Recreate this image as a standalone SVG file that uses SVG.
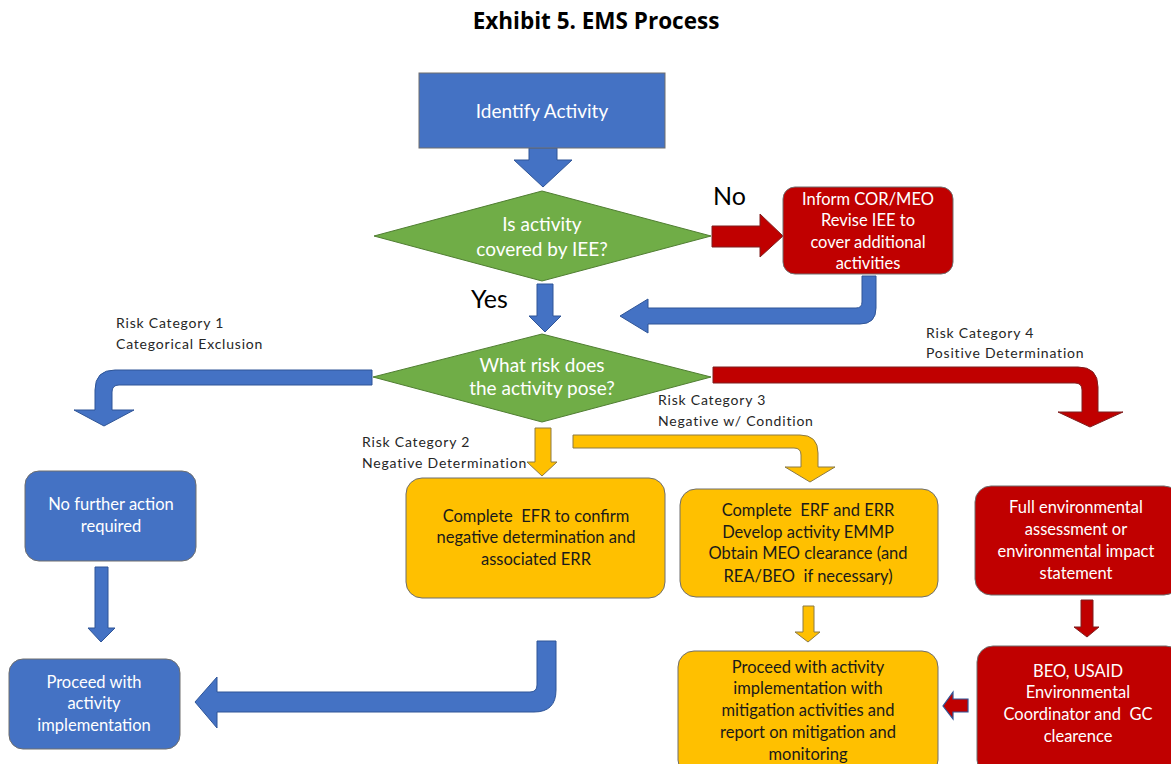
<svg xmlns="http://www.w3.org/2000/svg" width="1171" height="764" viewBox="0 0 1171 764">
<style>
.title{font-family:"Open Sans","Liberation Sans",sans-serif;font-weight:bold;font-size:22.5px;fill:#000;text-anchor:middle}
.big{font-family:Lato,"Liberation Sans",sans-serif;font-size:19px;fill:#fff;text-anchor:middle}
.bt{font-family:Lato,"Liberation Sans",sans-serif;font-size:16.5px;fill:#fff;text-anchor:middle}
.yt{font-family:Lato,"Liberation Sans",sans-serif;font-size:16.5px;fill:#1a1a1a;text-anchor:middle}
.lbl{font-family:Lato,"Liberation Sans",sans-serif;font-size:14px;fill:#262626;letter-spacing:0.8px}
.yn{font-family:Lato,"Liberation Sans",sans-serif;font-size:25px;fill:#000}
.blue{fill:#4472C4;stroke:#2F5597;stroke-width:1}
.green{fill:#70AD47;stroke:#507E32;stroke-width:1}
.red{fill:#C00000;stroke:#7F1F1F;stroke-width:1}
.yel{fill:#FFC000;stroke:#8C7A45;stroke-width:1}
.box{stroke:#6E6E6E;stroke-width:1}
</style>
<rect width="1171" height="764" fill="#fff"/>
<text class="title" x="596" y="29">Exhibit 5. EMS Process</text>

<g id="connectors">
  <polygon class="blue" points="529,148 557,148 557,160 572,160 543,187 514,160 529,160"/>
  <polygon class="red" points="712,226 760,226 760,214 783,236 760,257 760,247 712,247"/>
  <path class="blue" d="M862,276 L876,276 L876,308 Q876,324 860,324 L648,324 L648,333 L620,316 L648,299 L648,308 L856,308 Q862,308 862,302 Z"/>
  <polygon class="blue" points="537,284 553,284 553,316 561,316 545,332 529,316 537,316"/>
  <path class="blue" d="M372,370 L115,370 Q95,370 95,390 L95,410 L74,410 L104,426 L134,410 L112,410 L112,392 Q112,385 119,385 L372,385 Z"/>
  <path class="red" d="M713,367 L1078,367 Q1098,367 1098,387 L1098,412 L1123,412 L1090,427 L1058,412 L1082,412 L1082,390 Q1082,383 1075,383 L713,383 Z"/>
  <polygon class="yel" points="535,428 551,428 551,462 557,462 542,476 527,462 535,462"/>
  <path class="yel" d="M573,435 L800,435 Q818,435 818,453 L818,467 L835,467 L810,482 L785,467 L801,467 L801,455 Q801,448 794,448 L573,448 Z"/>
  <polygon class="blue" points="95,567 108,567 108,628 115,628 101,642 88,628 95,628"/>
  <path class="blue" d="M537,641 L556,641 L556,690 Q556,712 534,712 L217,712 L217,728 L195,702 L217,677 L217,692 L530,692 Q537,692 537,685 Z"/>
  <polygon class="yel" points="803,606 814,606 814,632 820,632 808,642 795,632 803,632"/>
  <polygon class="red" points="1081,600 1093,600 1093,627 1099,627 1087,637 1074,627 1081,627"/>
  <polygon fill="#C00000" stroke="#2F5597" stroke-width="1.2" points="968,699 968,712 953,712 953,719 943,706 953,692 953,699"/>
</g>

<g id="labels">
  <text class="yn" x="713" y="205">No</text>
  <text class="yn" x="471" y="308">Yes</text>
  <text class="lbl" x="116" y="328">Risk Category 1</text>
  <text class="lbl" x="116" y="349">Categorical Exclusion</text>
  <text class="lbl" x="926" y="338">Risk Category 4</text>
  <text class="lbl" x="926" y="358">Positive Determination</text>
  <text class="lbl" x="658" y="405">Risk Category 3</text>
  <text class="lbl" x="658" y="426">Negative w/ Condition</text>
  <text class="lbl" x="362" y="447">Risk Category 2</text>
  <text class="lbl" x="362" y="468">Negative Determination</text>
</g>

<g id="identify">
  <rect class="blue box" x="419" y="73" width="246" height="75"/>
  <text class="big" x="542" y="118">Identify Activity</text>
</g>

<g id="decision1">
  <polygon class="green" points="374,236 542,191 711,236 542,281"/>
  <text class="big" x="542" y="231">Is activity</text>
  <text class="big" x="542" y="256">covered by IEE?</text>
</g>

<g id="inform">
  <rect class="red box" x="783" y="187" width="170" height="87" rx="12"/>
  <text class="bt" x="868" y="205">Inform COR/MEO</text>
  <text class="bt" x="868" y="226">Revise IEE to</text>
  <text class="bt" x="868" y="248">cover additional</text>
  <text class="bt" x="868" y="269">activities</text>
</g>

<g id="decision2">
  <polygon class="green" points="373,377 542,334 711,377 542,422"/>
  <text class="big" x="542" y="372">What risk does</text>
  <text class="big" x="542" y="395">the activity pose?</text>
</g>

<g id="nofurther">
  <rect class="blue box" x="25" y="471" width="171" height="90" rx="14"/>
  <text class="bt" x="111" y="510">No further action</text>
  <text class="bt" x="111" y="532">required</text>
</g>

<g id="proceed1">
  <rect class="blue box" x="9" y="659" width="171" height="90" rx="14"/>
  <text class="bt" x="94" y="688">Proceed with</text>
  <text class="bt" x="94" y="709">activity</text>
  <text class="bt" x="94" y="731">implementation</text>
</g>

<g id="efr">
  <rect class="yel box" x="406" y="478" width="259" height="120" rx="16"/>
  <text class="yt" x="536" y="522">Complete&#160; EFR to confirm</text>
  <text class="yt" x="536" y="543">negative determination and</text>
  <text class="yt" x="536" y="565">associated ERR</text>
</g>

<g id="erf">
  <rect class="yel box" x="680" y="489" width="258" height="108" rx="16"/>
  <text class="yt" x="808" y="516">Complete&#160; ERF and ERR</text>
  <text class="yt" x="808" y="538">Develop activity EMMP</text>
  <text class="yt" x="808" y="559">Obtain MEO clearance (and</text>
  <text class="yt" x="808" y="582">REA/BEO&#160; if necessary)</text>
</g>

<g id="proceed2">
  <rect class="yel box" x="678" y="651" width="260" height="125" rx="16"/>
  <text class="yt" x="808" y="673">Proceed with activity</text>
  <text class="yt" x="808" y="694">implementation with</text>
  <text class="yt" x="808" y="716">mitigation activities and</text>
  <text class="yt" x="808" y="738">report on mitigation and</text>
  <text class="yt" x="808" y="760">monitoring</text>
</g>

<g id="fullea">
  <rect class="red box" x="975" y="486" width="205" height="109" rx="16"/>
  <text class="bt" x="1076" y="513">Full environmental</text>
  <text class="bt" x="1076" y="535">assessment or</text>
  <text class="bt" x="1076" y="557">environmental impact</text>
  <text class="bt" x="1076" y="579">statement</text>
</g>

<g id="beo">
  <rect class="red box" x="977" y="646" width="205" height="130" rx="16"/>
  <text class="bt" x="1078" y="677">BEO, USAID</text>
  <text class="bt" x="1078" y="698">Environmental</text>
  <text class="bt" x="1078" y="720">Coordinator and&#160; GC</text>
  <text class="bt" x="1078" y="742">clearence</text>
</g>
</svg>
